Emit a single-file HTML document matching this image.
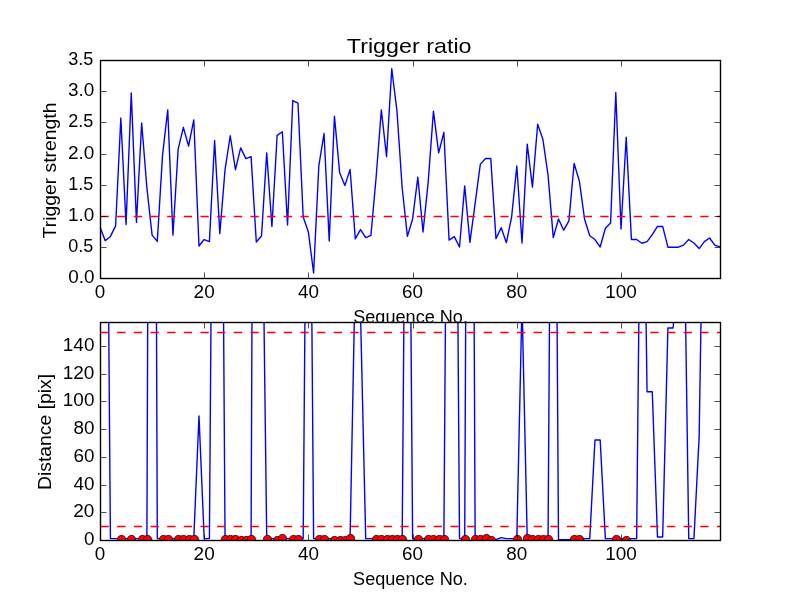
<!DOCTYPE html>
<html><head><meta charset="utf-8"><title>Trigger ratio</title>
<style>html,body{margin:0;padding:0;background:#fff;width:800px;height:600px;overflow:hidden}svg{display:block;will-change:transform}text{-webkit-font-smoothing:antialiased}text{font-family:"Liberation Sans",sans-serif}</style>
</head><body>
<svg width="800" height="600" viewBox="0 0 800 600">
<defs><clipPath id="c1"><rect x="100" y="60" width="620" height="218.18"/></clipPath>
<clipPath id="c2"><rect x="100" y="322" width="620" height="218"/></clipPath></defs>
<rect x="0" y="0" width="800" height="600" fill="#fff"/>
<rect x="100" y="60" width="620" height="218.18" fill="#fff"/>
<g clip-path="url(#c1)">
<polyline points="100,227.06 105.21,240.78 110.42,236.42 115.63,225.82 120.84,117.97 126.05,224.57 131.26,93.04 136.47,222.39 141.68,122.96 146.89,187.79 152.1,235.17 157.31,241.4 162.52,155.38 167.73,109.87 172.94,235.17 178.15,149.14 183.36,127.32 188.57,146.03 193.78,119.84 198.99,246.02 204.2,239.53 209.41,241.59 214.62,140.42 219.83,233.61 225.04,169.71 230.25,135.74 235.46,169.71 240.67,147.9 245.88,158.62 251.09,156.62 256.3,242.03 261.51,235.98 266.72,152.88 271.93,226.44 277.14,135.43 282.35,131.69 287.56,225.01 292.77,100.52 297.98,103.01 303.19,217.09 308.4,232.05 313.61,273.01 318.82,165.97 324.03,133.56 329.24,241.03 334.45,116.1 339.66,172.83 344.87,185.61 350.08,169.4 355.29,238.91 360.5,229.56 365.71,237.66 370.92,235.42 376.13,177.19 381.34,109.87 386.55,156.62 391.76,68.73 396.97,111.12 402.18,187.79 407.39,236.42 412.61,218.96 417.82,177.19 423.03,232.05 428.24,181.56 433.45,111.12 438.66,152.88 443.87,132.31 449.08,240.16 454.29,236.6 459.5,247.01 464.71,185.92 469.92,242.4 475.13,203.38 480.34,164.1 485.55,158.49 490.76,158.49 495.97,238.6 501.18,227.69 506.39,242.65 511.6,217.09 516.81,165.97 522.02,242.96 527.23,144.16 532.44,187.17 537.65,124.21 542.86,139.17 548.07,175.32 553.28,237.66 558.49,218.96 563.7,230.18 568.91,220.83 574.12,163.48 579.33,180.94 584.54,218.96 589.75,235.79 594.96,239.53 600.17,247.01 605.38,228.31 610.59,223.01 615.8,92.42 621.01,228.94 626.22,137.3 631.43,239.53 636.64,239.53 641.85,243.27 647.06,241.59 652.27,234.55 657.48,226.44 662.69,226.44 667.9,247.2 673.11,247.2 678.32,247.2 683.53,245.14 688.74,239.53 693.95,242.96 699.16,248.57 704.37,241.59 709.58,237.97 714.79,245.14 720,247.01" fill="none" stroke="#0000ff" stroke-width="1.39" stroke-linejoin="round" stroke-linecap="butt"/>
<line x1="100.5" y1="216.5" x2="720.5" y2="216.5" stroke="#ff0000" stroke-width="1.39" stroke-dasharray="8.33 8.33"/>
</g>
<g font-family='"Liberation Sans", sans-serif' fill="#000" opacity="0.999">
<text x="410.6" y="322.7" text-anchor="middle" font-size="17.6" textLength="114.76" lengthAdjust="spacingAndGlyphs">Sequence No.</text>
</g>
<rect x="100" y="321.82" width="620" height="218.18" fill="#fff"/>
<g clip-path="url(#c2)">
<polyline points="100,-152.64 105.21,-118.01 110.42,538.61 115.63,538.61 120.84,538.61 126.05,538.61 131.26,538.61 136.47,538.61 141.68,538.61 146.89,538.61 152.1,-845.28 157.31,538.61 162.52,538.61 167.73,538.61 172.94,538.61 178.15,538.61 183.36,538.61 188.57,538.61 193.78,538.61 198.99,416.02 204.2,538.61 209.41,538.61 214.62,-183.12 219.83,-235.76 225.04,538.61 230.25,538.61 235.46,538.61 240.67,538.61 245.88,538.61 251.09,538.61 256.3,-734.46 261.51,121.65 266.72,538.61 271.93,538.61 277.14,538.61 282.35,538.61 287.56,538.61 292.77,538.61 297.98,538.61 303.19,538.61 308.4,-111.08 313.61,538.61 318.82,538.61 324.03,538.61 329.24,538.61 334.45,538.61 339.66,538.61 344.87,538.61 350.08,538.61 355.29,271.26 360.5,312.81 365.71,538.61 370.92,538.61 376.13,538.61 381.34,538.61 386.55,538.61 391.76,538.61 396.97,538.61 402.18,538.61 407.39,-124.94 412.61,538.61 417.82,538.61 423.03,538.61 428.24,538.61 433.45,538.61 438.66,538.61 443.87,538.61 449.08,-184.5 454.29,-184.5 459.5,538.61 464.71,538.61 469.92,-637.49 475.13,538.61 480.34,538.61 485.55,538.61 490.76,538.61 495.97,539.58 501.18,537.65 506.39,538.61 511.6,538.61 516.81,538.61 522.02,301.73 527.23,538.61 532.44,538.61 537.65,538.61 542.86,538.61 548.07,538.61 553.28,-263.46 558.49,539.58 563.7,539.58 568.91,539.58 574.12,538.61 579.33,538.61 584.54,538.61 589.75,538.61 594.96,439.98 600.17,439.98 605.38,538.61 610.59,538.61 615.8,538.61 621.01,538.61 626.22,538.61 631.43,538.61 636.64,538.61 641.85,20.52 647.06,391.77 652.27,391.77 657.48,536.95 662.69,536.95 667.9,328.05 673.11,328.05 678.32,262.94 683.53,177.06 688.74,538.61 693.95,538.61 699.16,436.1 704.37,109.18 709.58,-14.11 714.79,-14.11 720,-14.11" fill="none" stroke="#0000ff" stroke-width="1.39" stroke-linejoin="round" stroke-linecap="butt"/>
<line x1="100.5" y1="332.5" x2="720.5" y2="332.5" stroke="#ff0000" stroke-width="1.39" stroke-dasharray="8.33 8.33"/>
<line x1="100.5" y1="526.5" x2="720.5" y2="526.5" stroke="#ff0000" stroke-width="1.39" stroke-dasharray="8.33 8.33"/>
<circle cx="121.5" cy="539.5" r="4.17" fill="#ff0000" stroke="#000" stroke-width="0.69"/>
<circle cx="131.5" cy="539.5" r="4.17" fill="#ff0000" stroke="#000" stroke-width="0.69"/>
<circle cx="142.5" cy="539.5" r="4.17" fill="#ff0000" stroke="#000" stroke-width="0.69"/>
<circle cx="147.5" cy="539.5" r="4.17" fill="#ff0000" stroke="#000" stroke-width="0.69"/>
<circle cx="163.5" cy="539.5" r="4.17" fill="#ff0000" stroke="#000" stroke-width="0.69"/>
<circle cx="168.5" cy="539.5" r="4.17" fill="#ff0000" stroke="#000" stroke-width="0.69"/>
<circle cx="178.5" cy="539.5" r="4.17" fill="#ff0000" stroke="#000" stroke-width="0.69"/>
<circle cx="183.5" cy="539.5" r="4.17" fill="#ff0000" stroke="#000" stroke-width="0.69"/>
<circle cx="189.5" cy="539.5" r="4.17" fill="#ff0000" stroke="#000" stroke-width="0.69"/>
<circle cx="194.5" cy="539.5" r="4.17" fill="#ff0000" stroke="#000" stroke-width="0.69"/>
<circle cx="225.5" cy="539.5" r="4.17" fill="#ff0000" stroke="#000" stroke-width="0.69"/>
<circle cx="230.5" cy="539.5" r="4.17" fill="#ff0000" stroke="#000" stroke-width="0.69"/>
<circle cx="235.5" cy="539.5" r="4.17" fill="#ff0000" stroke="#000" stroke-width="0.69"/>
<circle cx="241.5" cy="540.5" r="4.17" fill="#ff0000" stroke="#000" stroke-width="0.69"/>
<circle cx="246.5" cy="540.5" r="4.17" fill="#ff0000" stroke="#000" stroke-width="0.69"/>
<circle cx="251.5" cy="539.5" r="4.17" fill="#ff0000" stroke="#000" stroke-width="0.69"/>
<circle cx="267.5" cy="539.5" r="4.17" fill="#ff0000" stroke="#000" stroke-width="0.69"/>
<circle cx="277.5" cy="540.5" r="4.17" fill="#ff0000" stroke="#000" stroke-width="0.69"/>
<circle cx="282.5" cy="538.5" r="4.17" fill="#ff0000" stroke="#000" stroke-width="0.69"/>
<circle cx="293.5" cy="539.5" r="4.17" fill="#ff0000" stroke="#000" stroke-width="0.69"/>
<circle cx="298.5" cy="539.5" r="4.17" fill="#ff0000" stroke="#000" stroke-width="0.69"/>
<circle cx="319.5" cy="539.5" r="4.17" fill="#ff0000" stroke="#000" stroke-width="0.69"/>
<circle cx="324.5" cy="539.5" r="4.17" fill="#ff0000" stroke="#000" stroke-width="0.69"/>
<circle cx="334.5" cy="540.5" r="4.17" fill="#ff0000" stroke="#000" stroke-width="0.69"/>
<circle cx="340.5" cy="540.5" r="4.17" fill="#ff0000" stroke="#000" stroke-width="0.69"/>
<circle cx="345.5" cy="540.5" r="4.17" fill="#ff0000" stroke="#000" stroke-width="0.69"/>
<circle cx="350.5" cy="538.5" r="4.17" fill="#ff0000" stroke="#000" stroke-width="0.69"/>
<circle cx="376.5" cy="539.5" r="4.17" fill="#ff0000" stroke="#000" stroke-width="0.69"/>
<circle cx="381.5" cy="539.5" r="4.17" fill="#ff0000" stroke="#000" stroke-width="0.69"/>
<circle cx="387.5" cy="539.5" r="4.17" fill="#ff0000" stroke="#000" stroke-width="0.69"/>
<circle cx="392.5" cy="539.5" r="4.17" fill="#ff0000" stroke="#000" stroke-width="0.69"/>
<circle cx="397.5" cy="539.5" r="4.17" fill="#ff0000" stroke="#000" stroke-width="0.69"/>
<circle cx="402.5" cy="539.5" r="4.17" fill="#ff0000" stroke="#000" stroke-width="0.69"/>
<circle cx="418.5" cy="539.5" r="4.17" fill="#ff0000" stroke="#000" stroke-width="0.69"/>
<circle cx="428.5" cy="539.5" r="4.17" fill="#ff0000" stroke="#000" stroke-width="0.69"/>
<circle cx="433.5" cy="539.5" r="4.17" fill="#ff0000" stroke="#000" stroke-width="0.69"/>
<circle cx="439.5" cy="539.5" r="4.17" fill="#ff0000" stroke="#000" stroke-width="0.69"/>
<circle cx="444.5" cy="539.5" r="4.17" fill="#ff0000" stroke="#000" stroke-width="0.69"/>
<circle cx="465.5" cy="539.5" r="4.17" fill="#ff0000" stroke="#000" stroke-width="0.69"/>
<circle cx="475.5" cy="539.5" r="4.17" fill="#ff0000" stroke="#000" stroke-width="0.69"/>
<circle cx="480.5" cy="539.5" r="4.17" fill="#ff0000" stroke="#000" stroke-width="0.69"/>
<circle cx="486.5" cy="538.5" r="4.17" fill="#ff0000" stroke="#000" stroke-width="0.69"/>
<circle cx="491.5" cy="540.5" r="4.17" fill="#ff0000" stroke="#000" stroke-width="0.69"/>
<circle cx="517.5" cy="539.5" r="4.17" fill="#ff0000" stroke="#000" stroke-width="0.69"/>
<circle cx="527.5" cy="538.5" r="4.17" fill="#ff0000" stroke="#000" stroke-width="0.69"/>
<circle cx="532.5" cy="539.5" r="4.17" fill="#ff0000" stroke="#000" stroke-width="0.69"/>
<circle cx="538.5" cy="539.5" r="4.17" fill="#ff0000" stroke="#000" stroke-width="0.69"/>
<circle cx="543.5" cy="539.5" r="4.17" fill="#ff0000" stroke="#000" stroke-width="0.69"/>
<circle cx="548.5" cy="539.5" r="4.17" fill="#ff0000" stroke="#000" stroke-width="0.69"/>
<circle cx="574.5" cy="539.5" r="4.17" fill="#ff0000" stroke="#000" stroke-width="0.69"/>
<circle cx="579.5" cy="539.5" r="4.17" fill="#ff0000" stroke="#000" stroke-width="0.69"/>
<circle cx="616.5" cy="539.5" r="4.17" fill="#ff0000" stroke="#000" stroke-width="0.69"/>
<circle cx="626.5" cy="540.5" r="4.17" fill="#ff0000" stroke="#000" stroke-width="0.69"/>
</g>
<path d="M100.5 278.5v-6M100.5 60.5v6M204.5 278.5v-6M204.5 60.5v6M308.5 278.5v-6M308.5 60.5v6M413.5 278.5v-6M413.5 60.5v6M517.5 278.5v-6M517.5 60.5v6M621.5 278.5v-6M621.5 60.5v6M100.5 278.5h6M720.5 278.5h-6M100.5 247.5h6M720.5 247.5h-6M100.5 216.5h6M720.5 216.5h-6M100.5 185.5h6M720.5 185.5h-6M100.5 154.5h6M720.5 154.5h-6M100.5 122.5h6M720.5 122.5h-6M100.5 91.5h6M720.5 91.5h-6M100.5 60.5h6M720.5 60.5h-6" stroke="#000" stroke-width="0.69" fill="none"/>
<rect x="100.5" y="60.5" width="620" height="218" fill="none" stroke="#000" stroke-width="1.39"/>
<path d="M100.5 540.5v-6M100.5 322.5v6M204.5 540.5v-6M204.5 322.5v6M308.5 540.5v-6M308.5 322.5v6M413.5 540.5v-6M413.5 322.5v6M517.5 540.5v-6M517.5 322.5v6M621.5 540.5v-6M621.5 322.5v6M100.5 540.5h6M720.5 540.5h-6M100.5 512.5h6M720.5 512.5h-6M100.5 485.5h6M720.5 485.5h-6M100.5 457.5h6M720.5 457.5h-6M100.5 429.5h6M720.5 429.5h-6M100.5 401.5h6M720.5 401.5h-6M100.5 374.5h6M720.5 374.5h-6M100.5 346.5h6M720.5 346.5h-6" stroke="#000" stroke-width="0.69" fill="none"/>
<rect x="100.5" y="322.5" width="620" height="218" fill="none" stroke="#000" stroke-width="1.39"/>
<g font-family='"Liberation Sans", sans-serif' fill="#000" opacity="0.999">
<text x="409.15" y="52.6" text-anchor="middle" font-size="21.1" textLength="124.76" lengthAdjust="spacingAndGlyphs">Trigger ratio</text>
<text x="100" y="297.68" text-anchor="middle" font-size="17.6" textLength="10.5" lengthAdjust="spacingAndGlyphs">0</text>
<text x="204.2" y="297.68" text-anchor="middle" font-size="17.6" textLength="21.12" lengthAdjust="spacingAndGlyphs">20</text>
<text x="308.4" y="297.68" text-anchor="middle" font-size="17.6" textLength="21" lengthAdjust="spacingAndGlyphs">40</text>
<text x="412.61" y="297.68" text-anchor="middle" font-size="17.6" textLength="21" lengthAdjust="spacingAndGlyphs">60</text>
<text x="516.81" y="297.68" text-anchor="middle" font-size="17.6" textLength="21" lengthAdjust="spacingAndGlyphs">80</text>
<text x="621.01" y="297.68" text-anchor="middle" font-size="17.6" textLength="31.62" lengthAdjust="spacingAndGlyphs">100</text>
<text x="100" y="559.5" text-anchor="middle" font-size="17.6" textLength="10.5" lengthAdjust="spacingAndGlyphs">0</text>
<text x="204.2" y="559.5" text-anchor="middle" font-size="17.6" textLength="21.12" lengthAdjust="spacingAndGlyphs">20</text>
<text x="308.4" y="559.5" text-anchor="middle" font-size="17.6" textLength="21" lengthAdjust="spacingAndGlyphs">40</text>
<text x="412.61" y="559.5" text-anchor="middle" font-size="17.6" textLength="21" lengthAdjust="spacingAndGlyphs">60</text>
<text x="516.81" y="559.5" text-anchor="middle" font-size="17.6" textLength="21" lengthAdjust="spacingAndGlyphs">80</text>
<text x="621.01" y="559.5" text-anchor="middle" font-size="17.6" textLength="31.62" lengthAdjust="spacingAndGlyphs">100</text>
<text x="94.44" y="283.18" text-anchor="end" font-size="17.6" textLength="26.25" lengthAdjust="spacingAndGlyphs">0.0</text>
<text x="93.34" y="252.01" text-anchor="end" font-size="17.6" textLength="25.05" lengthAdjust="spacingAndGlyphs">0.5</text>
<text x="94.44" y="220.84" text-anchor="end" font-size="17.6" textLength="26.37" lengthAdjust="spacingAndGlyphs">1.0</text>
<text x="93.34" y="189.68" text-anchor="end" font-size="17.6" textLength="25.17" lengthAdjust="spacingAndGlyphs">1.5</text>
<text x="94.44" y="158.51" text-anchor="end" font-size="17.6" textLength="26.37" lengthAdjust="spacingAndGlyphs">2.0</text>
<text x="93.34" y="127.34" text-anchor="end" font-size="17.6" textLength="25.17" lengthAdjust="spacingAndGlyphs">2.5</text>
<text x="94.44" y="96.17" text-anchor="end" font-size="17.6" textLength="26.37" lengthAdjust="spacingAndGlyphs">3.0</text>
<text x="93.34" y="65" text-anchor="end" font-size="17.6" textLength="25.17" lengthAdjust="spacingAndGlyphs">3.5</text>
<text x="94.44" y="545" text-anchor="end" font-size="17.6" textLength="10.5" lengthAdjust="spacingAndGlyphs">0</text>
<text x="94.44" y="517.29" text-anchor="end" font-size="17.6" textLength="21.12" lengthAdjust="spacingAndGlyphs">20</text>
<text x="94.44" y="489.59" text-anchor="end" font-size="17.6" textLength="21" lengthAdjust="spacingAndGlyphs">40</text>
<text x="94.44" y="461.88" text-anchor="end" font-size="17.6" textLength="21" lengthAdjust="spacingAndGlyphs">60</text>
<text x="94.44" y="434.18" text-anchor="end" font-size="17.6" textLength="21" lengthAdjust="spacingAndGlyphs">80</text>
<text x="94.44" y="406.47" text-anchor="end" font-size="17.6" textLength="31.62" lengthAdjust="spacingAndGlyphs">100</text>
<text x="94.44" y="378.77" text-anchor="end" font-size="17.6" textLength="31.75" lengthAdjust="spacingAndGlyphs">120</text>
<text x="94.44" y="351.06" text-anchor="end" font-size="17.6" textLength="31.62" lengthAdjust="spacingAndGlyphs">140</text>
<text x="0" y="0" transform="translate(55.8 170.49) rotate(-90)" text-anchor="middle" font-size="17.6" textLength="135.86" lengthAdjust="spacingAndGlyphs">Trigger strength</text>
<text x="410.45" y="585" text-anchor="middle" font-size="17.6" textLength="114.76" lengthAdjust="spacingAndGlyphs">Sequence No.</text>
<text x="0" y="0" transform="translate(51.4 431.91) rotate(-90)" text-anchor="middle" font-size="17.6" textLength="116" lengthAdjust="spacingAndGlyphs">Distance [pix]</text>
</g>
</svg>
</body></html>
